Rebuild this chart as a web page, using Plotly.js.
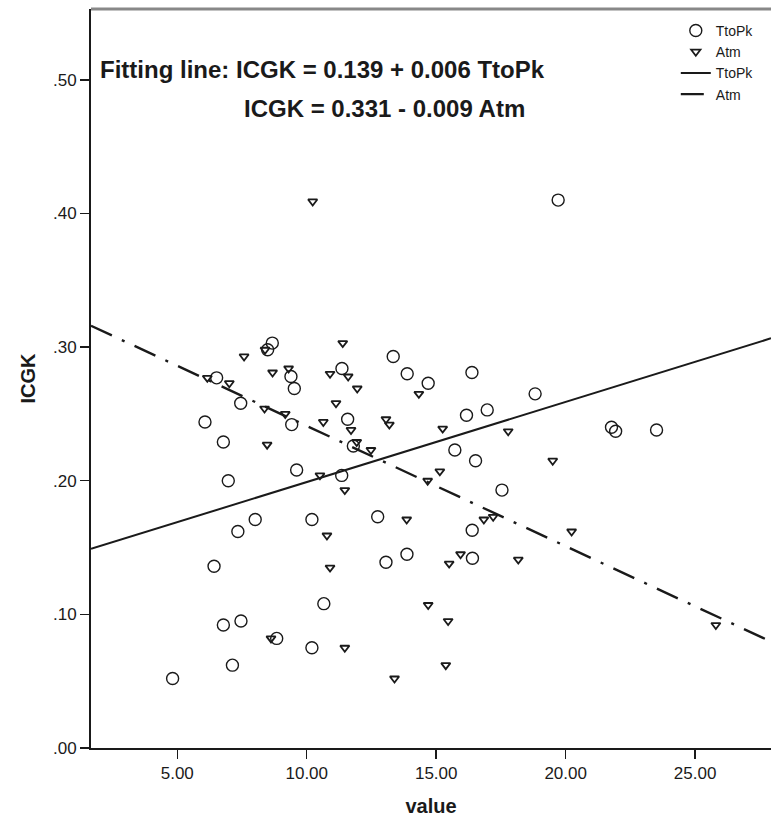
<!DOCTYPE html>
<html>
<head>
<meta charset="utf-8">
<script src="https://cdn.plot.ly/plotly-3.0.1.min.js"></script>
<style>html,body{margin:0;padding:0;background:#fff;}#chart{width:771px;height:823px;}</style>
</head>
<body>
<div id="chart"></div>
<script>
// TtoPk (open circles)
var ttopkX = [4.82, 6.07, 6.42, 6.52, 6.78, 6.78, 6.97, 7.13, 7.34, 7.45, 7.46, 8.01, 8.49, 8.67, 8.84,
              9.39, 9.42, 9.52, 9.61, 10.20, 10.20, 10.66, 11.35, 11.36, 11.58, 11.80, 12.74, 13.06, 13.34, 13.87,
              13.88, 14.69, 15.72, 16.17, 16.38, 16.39, 16.40, 16.52, 16.97, 17.54, 18.82, 19.71, 21.77, 21.93, 23.51];
var ttopkY = [0.052, 0.244, 0.136, 0.277, 0.229, 0.092, 0.200, 0.062, 0.162, 0.258, 0.095, 0.171, 0.298, 0.303, 0.082,
              0.278, 0.242, 0.269, 0.208, 0.171, 0.075, 0.108, 0.204, 0.284, 0.246, 0.226, 0.173, 0.139, 0.293, 0.145,
              0.280, 0.273, 0.223, 0.249, 0.281, 0.163, 0.142, 0.215, 0.253, 0.193, 0.265, 0.410, 0.240, 0.237, 0.238];
// Atm (down triangles)
var atmX = [6.16, 7.01, 7.58, 8.37, 8.39, 8.47, 8.62, 8.68, 9.17, 9.30, 10.23, 10.51, 10.64, 10.78, 10.90,
            10.90, 11.13, 11.39, 11.47, 11.47, 11.60, 11.71, 11.93, 11.95, 12.48, 13.06, 13.19, 13.39, 13.86, 14.33,
            14.67, 14.69, 15.14, 15.25, 15.37, 15.46, 15.50, 15.94, 16.84, 17.20, 17.78, 18.17, 19.50, 20.23, 25.80];
var atmY = [0.277, 0.273, 0.293, 0.254, 0.298, 0.227, 0.082, 0.281, 0.250, 0.284, 0.409, 0.204, 0.244, 0.159, 0.135,
            0.280, 0.258, 0.303, 0.193, 0.075, 0.278, 0.238, 0.229, 0.269, 0.223, 0.246, 0.242, 0.052, 0.171, 0.265,
            0.200, 0.107, 0.207, 0.239, 0.062, 0.095, 0.138, 0.145, 0.171, 0.173, 0.237, 0.141, 0.215, 0.162, 0.092];
// Fitting lines from the printed equations
var ttopkFit = {intercept: 0.139, slope: 0.006};
var atmFit = {intercept: 0.331, slope: -0.009};
var xRange = [1.668, 27.93];
var yRange = [0, 0.553];
var yTickVals = [0, 0.1, 0.2, 0.3, 0.4, 0.5];
var yTickText = ['.00', '.10', '.20', '.30', '.40', '.50'];
var xTickVals = [5, 10, 15, 20, 25];
var xTickText = ['5.00', '10.00', '15.00', '20.00', '25.00'];
var eqLine1 = 'Fitting line: ICGK = 0.139 + 0.006 TtoPk';
var eqLine2 = 'ICGK = 0.331 - 0.009 Atm';

function fitY(f, xs) { return xs.map(function (x) { return f.intercept + f.slope * x; }); }

var FONT = 'Liberation Sans, Arial, sans-serif';
var INK = '#1a1a1a';

var traces = [
  {x: ttopkX, y: ttopkY, type: 'scatter', mode: 'markers', name: 'TtoPk',
   marker: {symbol: 'circle-open', size: 12, color: INK, line: {width: 1.4, color: INK}}},
  {x: atmX, y: atmY, type: 'scatter', mode: 'markers', name: 'Atm',
   marker: {symbol: 'triangle-down-open', size: 8, color: INK, line: {width: 1.8, color: INK}}},
  {x: xRange, y: fitY(ttopkFit, xRange), type: 'scatter', mode: 'lines', name: 'TtoPk',
   line: {color: INK, width: 2}},
  {x: xRange, y: fitY(atmFit, xRange), type: 'scatter', mode: 'lines', name: 'Atm',
   line: {color: INK, width: 2.4, dash: '23px,11px,3px,11px'}}
];

var layout = {
  width: 771, height: 823,
  margin: {l: 91, r: 0, t: 9, b: 75},
  paper_bgcolor: '#fff', plot_bgcolor: '#fff',
  font: {family: FONT, color: INK},
  showlegend: true,
  legend: {x: 0.86, y: 0.992, xanchor: 'left', yanchor: 'top', bgcolor: 'rgba(0,0,0,0)',
           font: {size: 14, family: FONT, color: INK}, tracegroupgap: 0, itemwidth: 30},
  xaxis: {range: xRange, tickvals: xTickVals, ticktext: xTickText, showgrid: false, zeroline: false,
          showline: true, linecolor: INK, linewidth: 2, ticks: 'outside', ticklen: 9, tickwidth: 1.5, tickcolor: INK,
          tickfont: {size: 17, family: FONT, color: INK},
          title: {text: '<b>value</b>', font: {size: 20, family: FONT, color: INK}, standoff: 17}},
  yaxis: {range: yRange, tickvals: yTickVals, ticktext: yTickText, showgrid: false, zeroline: false,
          showline: true, linecolor: INK, linewidth: 2, ticks: 'outside', ticklen: 9, tickwidth: 1.5, tickcolor: INK,
          tickfont: {size: 17, family: FONT, color: INK},
          title: {text: '<b>ICGK</b>', font: {size: 20, family: FONT, color: INK}, standoff: 12}},
  shapes: [
    {type: 'line', xref: 'paper', yref: 'paper', x0: 0, x1: 1, y0: 1, y1: 1, line: {color: '#888', width: 3}}
  ],
  annotations: [
    {text: '<b>' + eqLine1 + '</b>', xref: 'paper', yref: 'paper', x: 0.0103, y: 0.918,
     xanchor: 'left', yanchor: 'middle', showarrow: false, font: {size: 24, family: FONT, color: INK}},
    {text: '<b>' + eqLine2 + '</b>', xref: 'paper', yref: 'paper', x: 0.222, y: 0.866,
     xanchor: 'left', yanchor: 'middle', showarrow: false, font: {size: 24, family: FONT, color: INK}}
  ]
};

Plotly.newPlot('chart', traces, layout, {displayModeBar: false, staticPlot: true});
</script>
</body>
</html>
